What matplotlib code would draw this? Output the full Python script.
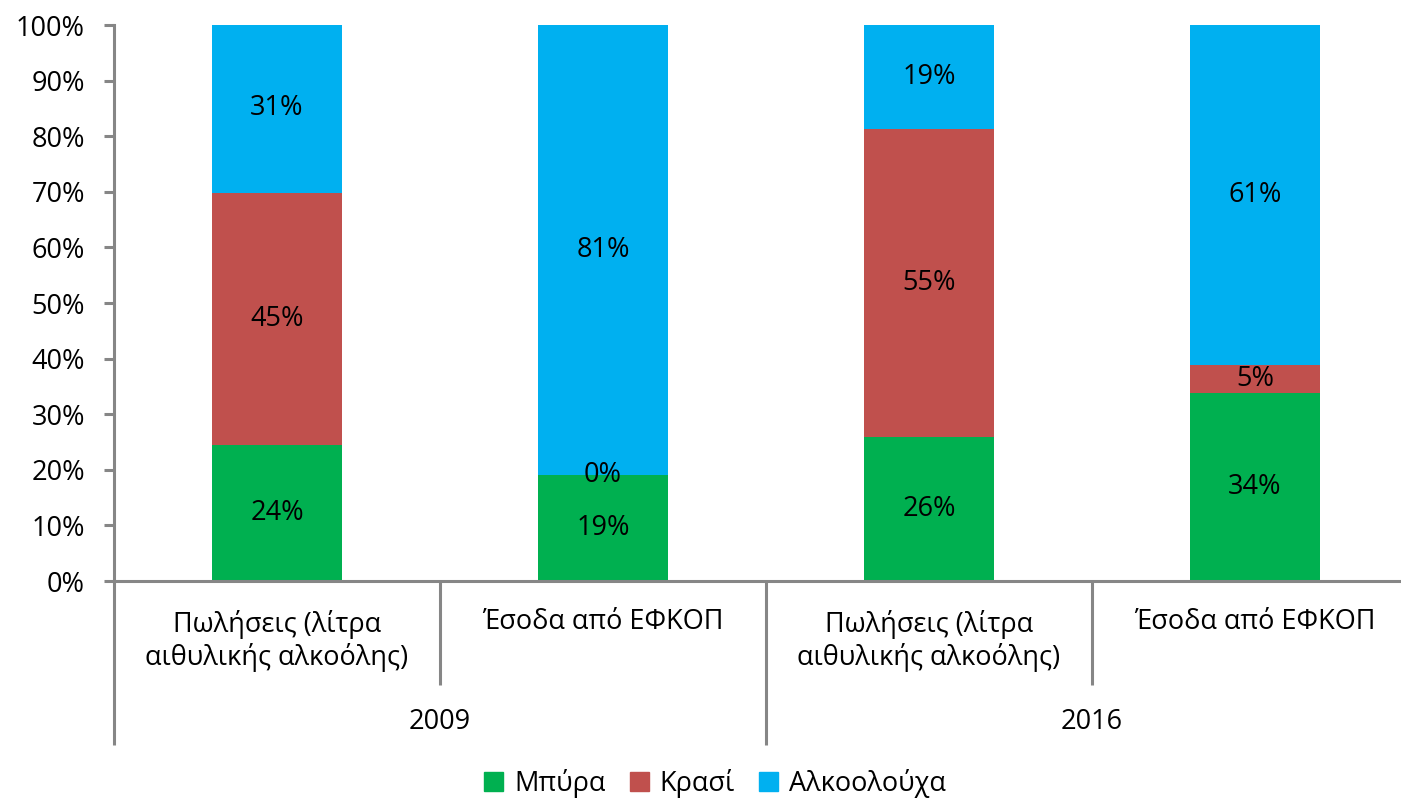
import matplotlib
matplotlib.use('Agg')
import matplotlib.pyplot as plt
from matplotlib.patches import Patch
import numpy as np

plt.rcParams['font.family'] = ['Open Sans', 'DejaVu Sans']

categories = ['Πωλήσεις (λίτρα\nαιθυλικής αλκοόλης)', 'Έσοδα από ΕΦΚΟΠ',
              'Πωλήσεις (λίτρα\nαιθυλικής αλκοόλης)', 'Έσοδα από ΕΦΚΟΠ']
years = ['2009', '2016']
series_names = ['Μπύρα', 'Κρασί', 'Αλκοολούχα']
beer = [24.4, 19.1, 25.9, 33.8]
wine = [45.4, 0.0, 55.4, 5.0]
spirits = [30.6, 80.9, 18.7, 61.2]
colors = ['#00B050', '#C0504D', '#00B0F0']

W, H = 1401, 798
fig = plt.figure(figsize=(W / 100, H / 100), dpi=100)
ax = fig.add_axes([114 / W, (H - 581) / H, (1418 - 114) / W, (581 - 25) / H])

gray = '#868686'
fs = 19.5
x = np.arange(len(categories))
bottom = np.zeros(len(categories))
for name, vals, c in zip(series_names, [beer, wine, spirits], colors):
    vals = np.array(vals)
    ax.bar(x, vals, 0.4, bottom=bottom, color=c, label=name, zorder=2)
    for xi, b, v in zip(x, bottom, vals):
        ax.text(xi, b + v / 2, f'{v:.0f}%', ha='center', va='center', fontsize=fs, zorder=3)
    bottom += vals

ax.set_xlim(-0.5, 3.5)
ax.set_ylim(0, 100)
ax.set_yticks(np.arange(0, 101, 10))
ax.set_yticklabels([f'{v}%' for v in range(0, 101, 10)], fontsize=fs)
ax.tick_params(axis='y', length=7, width=2.2, color=gray, pad=14)
ax.set_xticks([])
for s in ['top', 'right']:
    ax.spines[s].set_visible(False)
for s in ['left', 'bottom']:
    ax.spines[s].set_color(gray)
    ax.spines[s].set_linewidth(2.2)

trans = ax.get_xaxis_transform()
hpx = 581 - 25
for xs, ypx in [(-0.5, 745), (0.5, 685), (1.5, 745), (2.5, 685)]:
    ax.plot([xs, xs], [0, (581 - ypx) / hpx], color=gray, lw=2.2, transform=trans,
            clip_on=False, solid_capstyle='butt')

for xi, lab in zip(x, categories):
    y = (581 - 641) / hpx if '\n' in lab else (581 - 622) / hpx
    ax.text(xi, y, lab, ha='center', va='center', fontsize=fs, transform=trans,
            linespacing=1.2)
for i, yr in enumerate(years):
    ax.text(2 * i + 0.5, (581 - 722) / hpx, yr, ha='center', va='center', fontsize=fs,
            transform=trans)

handles = [Patch(color=c, label=n) for n, c in zip(series_names, colors)]
fig.legend(handles=handles, loc='center', bbox_to_anchor=(715 / W, (H - 783) / H), ncol=3,
           frameon=False, fontsize=fs, handlelength=0.7, handleheight=0.7,
           handletextpad=0.4, columnspacing=0.9, borderpad=0)

fig.savefig('out.png', dpi=100)
